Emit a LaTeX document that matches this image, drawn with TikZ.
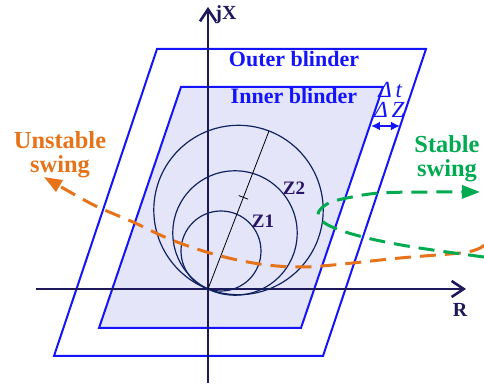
\documentclass[tikz,border=0pt]{standalone}
\usepackage{fontspec}
\setmainfont{Liberation Serif}
\definecolor{blindblue}{RGB}{20,20,250}
\definecolor{blindfill}{RGB}{229,229,250}
\definecolor{axisnavy}{RGB}{30,25,90}
\definecolor{mhonavy}{RGB}{15,35,95}
\definecolor{zlabel}{RGB}{40,20,100}
\definecolor{swingorange}{RGB}{230,115,25}
\definecolor{swinggreen}{RGB}{0,170,80}
\usetikzlibrary{calc, arrows.meta}

\begin{document}
\begin{tikzpicture}[x=0.5pt, y=-0.5pt,
    blinder/.style={draw=blindblue, line width=1pt},
    blindlabel/.style={text=blindblue, font=\fontsize{11}{13}\selectfont\bfseries, anchor=base},
    dzlabel/.style={text=blindblue, font=\fontsize{11.5}{13}\selectfont\itshape, anchor=base west, inner sep=0pt},
    axisline/.style={draw=axisnavy, line width=1.3pt, -{Straight Barb[length=6pt,width=8pt]}},
    axlabel/.style={text=axisnavy, font=\fontsize{10}{12}\selectfont\bfseries},
    mho/.style={draw=mhonavy, line width=0.6pt},
    zlab/.style={text=zlabel, font=\fontsize{9.5}{11}\selectfont\bfseries},
    swing/.style={line width=1.5pt, dash pattern=on 8pt off 4.5pt},
    swinglabel/.style={font=\fontsize{12.2}{12}\selectfont\bfseries, align=center},
  ]
    \useasboundingbox (0,0) rectangle (484,390);
    \coordinate (o) at (208,289);
    \coordinate (xl) at (36,289);
    \coordinate (xr) at (466,289);
    \coordinate (yb) at (208,383);
    \coordinate (yt) at (208,7);

    % blinders
    \filldraw[blinder, fill=blindfill] (99,328) -- (301,328) -- (383,87) -- (181,87) -- cycle;
    \draw[blinder] (54,356) -- (323,356) -- (426,49) -- (157,49) -- cycle;
    \node[blindlabel] (outer) at (294,67) {Outer blinder};
    \node[blindlabel] (inner) at (294,104) {Inner blinder};
    \node[dzlabel] (dt) at (378,98) {Δ\,t};
    \node[dzlabel] (dz) at (374,118) {Δ\,Z};
    \coordinate (dzl) at (371,126);
    \coordinate (dzr) at (400,126);
    \draw[blinder, line width=0.9pt, {Latex[length=4.5pt,width=4.5pt]}-{Latex[length=4.5pt,width=4.5pt]}] (dzl) -- (dzr);

    % axes
    \draw[axisline] (xl) -- (xr);
    \draw[axisline] (yb) -- (yt);
    \node[axlabel, anchor=base] (rlab) at (460,317) {R};
    \node[axlabel, anchor=base west, inner sep=0pt] (jxlab) at (215,20) {jX};

    % mho circles
    \coordinate (cz3) at (238.5,210);
    \coordinate (cz2) at (235,233);
    \coordinate (cz1) at (221,251);
    \draw[mho] (cz3) circle[radius=42.35pt];
    \draw[mho] (cz2) circle[radius=31.1pt];
    \draw[mho] (cz1) circle[radius=20pt];
    \coordinate (dtop) at (269,131);
    \draw[line width=0.4pt] (o) -- (dtop);
    \coordinate (tick) at ($(o)!0.58!(dtop)$);
    \draw[line width=0.4pt] ($(tick)!2.5pt!90:(dtop)$) -- ($(tick)!2.5pt!-90:(dtop)$);
    \node[zlab] (z1) at (263,221) {Z1};
    \node[zlab] (z2) at (294,188) {Z2};

    % swings
    \draw[swing, swingorange, -{Triangle[length=9pt,width=6.5pt]}]
      plot[smooth, tension=0.6] coordinates {(484,245) (478,249) (460,253) (400,258)
        (333,265) (300,267) (267,265) (233,259) (200,250) (167,238) (133,222)
        (100,208) (77,196) (44,177)};
    \draw[swing, swinggreen, -{Triangle[length=9pt,width=6.5pt]}]
      plot[smooth, tension=0.6] coordinates {(484,257) (413,247) (363,237) (330,226)
        (318,215) (327,204) (347,198) (380,193) (430,192) (480,192)};
    \node[swinglabel, text=swingorange] (unst) at (60,155) {Unstable\\swing};
    \node[swinglabel, text=swinggreen] (stab) at (447,159) {Stable\\swing};
  \end{tikzpicture}
\end{document}
